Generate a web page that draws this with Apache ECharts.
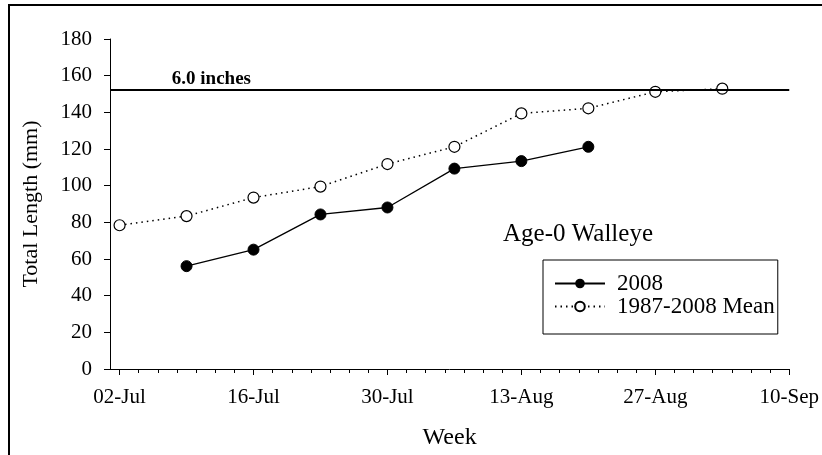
<!doctype html>
<html>
<head>
<meta charset="UTF-8">
<title>Age-0 Walleye</title>
<script src="https://cdn.jsdelivr.net/npm/echarts@6/dist/echarts.min.js"></script>
<style>
  html, body { margin: 0; padding: 0; background: #fff; }
  #main { width: 822px; height: 455px; }
</style>
</head>
<body>
<div id="main"></div>
<script>
// x values are days after 02-Jul
var meanDays = [0, 7, 14, 21, 28, 35, 42, 49, 56, 63];
var meanValues = [78.4, 83.4, 93.5, 99.5, 111.8, 121.2, 139.4, 142.2, 151.2, 152.9];
var days2008 = [7, 14, 21, 28, 35, 42, 49];
var values2008 = [56.1, 65.1, 84.3, 88.1, 109.3, 113.4, 121.2];
var tickDays = [0, 14, 28, 42, 56, 70];
var tickLabels = ['02-Jul', '16-Jul', '30-Jul', '13-Aug', '27-Aug', '10-Sep'];
var refLength = 152.4; // 6.0 inches

var font = 'Liberation Serif, Times New Roman, serif';

function pairs(xs, ys) {
  var out = [];
  for (var i = 0; i < xs.length; i++) out.push([xs[i], ys[i]]);
  return out;
}

// small ticks every 2 days
var minorDays = [];
for (var d = 0; d <= 70; d += 2) minorDays.push(d);

var myChart = echarts.init(document.getElementById('main'));
var option = {
  animation: false,
  backgroundColor: '#fff',
  textStyle: { fontFamily: font, color: '#000' },
  graphic: [{
    type: 'rect',
    shape: { x: 9, y: 5, width: 1000, height: 1000 },
    style: { fill: 'none', stroke: '#000', lineWidth: 2 }
  }],
  title: {
    text: 'Age-0 Walleye',
    left: 503, top: 222, padding: 0,
    textStyle: { fontFamily: font, fontSize: 25, fontWeight: 'normal', color: '#000' }
  },
  legend: {
    orient: 'vertical',
    left: 543, top: 260,
    padding: [12, 3, 16, 11],
    borderColor: '#000', borderWidth: 1,
    itemWidth: 50, itemHeight: 12, itemGap: 0,
    textStyle: { fontFamily: font, fontSize: 23, lineHeight: 22, color: '#000', padding: [0, 0, 0, 7] },
    data: ['2008', '1987-2008 Mean']
  },
  grid: { left: 110, right: 28, top: 39, bottom: 84 },
  xAxis: [{
    type: 'value', min: -1, max: 70,
    name: 'Week', nameLocation: 'middle', nameGap: 57,
    nameTextStyle: { fontFamily: font, fontSize: 24, color: '#000' },
    axisLine: { show: true, onZero: false, lineStyle: { color: '#000', width: 1 } },
    axisTick: { show: true, customValues: tickDays, length: 6, lineStyle: { color: '#000' } },
    axisLabel: {
      customValues: tickDays, margin: 18,
      fontFamily: font, fontSize: 21, color: '#000',
      formatter: function (v) { return tickLabels[tickDays.indexOf(v)]; }
    },
    splitLine: { show: false }
  }, {
    type: 'value', min: -1, max: 70, position: 'bottom',
    axisLine: { show: false, onZero: false },
    axisTick: { show: true, customValues: minorDays, length: 4, lineStyle: { color: '#000' } },
    axisLabel: { show: false },
    splitLine: { show: false }
  }],
  yAxis: {
    type: 'value', min: 0, max: 180, interval: 20,
    name: 'Total Length (mm)', nameLocation: 'middle', nameGap: 68,
    nameTextStyle: { fontFamily: font, fontSize: 22, color: '#000' },
    axisLine: { show: true, onZero: false, lineStyle: { color: '#000', width: 1 } },
    axisTick: { show: true, length: 6, lineStyle: { color: '#000' } },
    axisLabel: { margin: 18, fontFamily: font, fontSize: 21, color: '#000' },
    splitLine: { show: false }
  },
  series: [{
    name: '1987-2008 Mean',
    type: 'line',
    data: pairs(meanDays, meanValues),
    symbol: 'circle', symbolSize: 11,
    itemStyle: { color: '#fff', borderColor: '#000', borderWidth: 1.2 },
    lineStyle: { color: '#000', width: 1.5, type: [1.5, 4] },
    z: 3,
    markLine: {
      silent: true, symbol: 'none',
      label: { show: false },
      lineStyle: { color: '#000', width: 2, type: 'solid' },
      data: [{ yAxis: refLength }]
    },
    markPoint: {
      symbol: 'circle', symbolSize: 0,
      label: {
        show: true, position: 'top', distance: 1,
        formatter: '6.0 inches',
        fontFamily: font, fontSize: 19, fontWeight: 'bold', color: '#000'
      },
      data: [{ coord: [9.6, refLength] }]
    }
  }, {
    name: '2008',
    type: 'line',
    data: pairs(days2008, values2008),
    symbol: 'circle', symbolSize: 11,
    itemStyle: { color: '#000', borderColor: '#000' },
    lineStyle: { color: '#000', width: 1.3 },
    z: 4
  }]
};
myChart.setOption(option);
</script>
</body>
</html>
